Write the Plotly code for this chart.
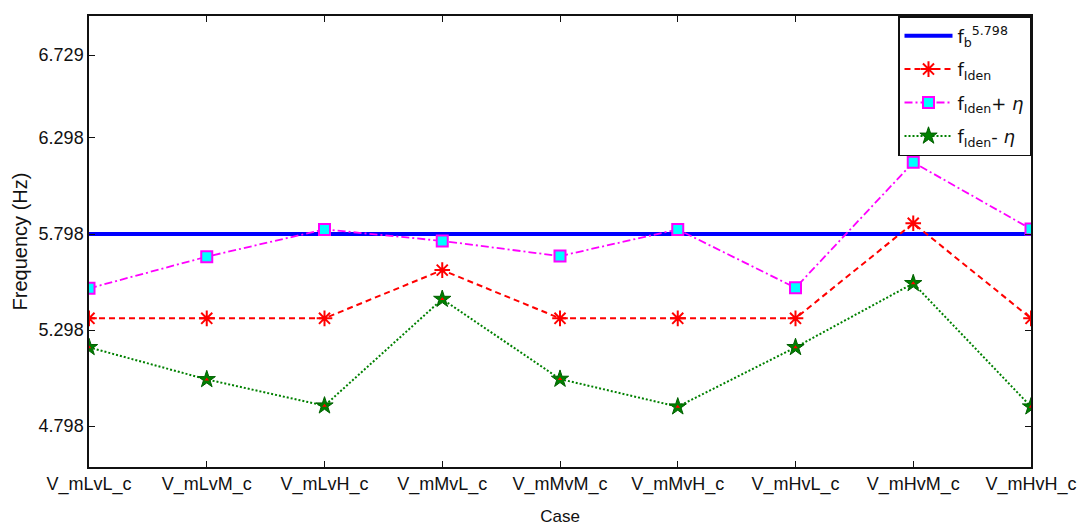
import plotly.graph_objects as go

cases = ["V_mLvL_c", "V_mLvM_c", "V_mLvH_c", "V_mMvL_c", "V_mMvM_c",
         "V_mMvH_c", "V_mHvL_c", "V_mHvM_c", "V_mHvH_c"]
f_b = 5.798
f_iden = [5.359, 5.359, 5.359, 5.610, 5.359, 5.359, 5.359, 5.854, 5.359]
f_plus = [5.515, 5.680, 5.822, 5.762, 5.683, 5.822, 5.518, 6.171, 5.824]
f_minus = [5.208, 5.041, 4.904, 5.459, 5.043, 4.899, 5.208, 5.541, 4.899]
ytick_vals = [4.798, 5.298, 5.798, 6.298, 6.729]
ytick_text = ["4.798", "5.298", "5.798", "6.298", "6.729"]

xi = list(range(len(cases)))
FONT = "Liberation Sans, Arial, sans-serif"

fig = go.Figure()
fig.add_trace(go.Scatter(
    x=[xi[0], xi[-1]], y=[f_b, f_b], mode="lines", legendgroup="a",
    line=dict(color="#0000ff", width=4),
    name="f<sub>b</sub><sup>5.798</sup>"))
fig.add_trace(go.Scatter(
    x=xi, y=f_iden, mode="lines+markers", legendgroup="b",
    line=dict(color="#ff0000", width=2, dash="6px,4px"),
    marker=dict(symbol="asterisk-open", size=13, line=dict(color="#ff0000", width=2)),
    name="f<sub>Iden</sub>"))
fig.add_trace(go.Scatter(
    x=xi, y=f_plus, mode="lines+markers", legendgroup="c",
    line=dict(color="#ff00ff", width=1.8, dash="8px,3px,2px,3px"),
    marker=dict(symbol="square", size=11, color="#00ffff", line=dict(color="#ff00ff", width=2)),
    name="f<sub>Iden</sub>+ <i>η</i>"))
fig.add_trace(go.Scatter(
    x=xi, y=f_minus, mode="lines+markers", legendgroup="d",
    line=dict(color="#008000", width=2, dash="2px,2px"),
    marker=dict(symbol="star", size=13, color="#008000", line=dict(color="#006000", width=1)),
    name="f<sub>Iden</sub>- <i>η</i>"))
fig.add_trace(go.Scatter(
    x=xi, y=f_minus, mode="markers", legendgroup="d",
    marker=dict(symbol="triangle-up", size=4, color="#ff0000"),
    showlegend=False, hoverinfo="skip"))

fig.update_layout(
    width=1078, height=526,
    margin=dict(l=89, r=47, t=16, b=59),
    paper_bgcolor="white", plot_bgcolor="white",
    font=dict(family=FONT, size=18, color="#111111"),
    showlegend=True,
    legend=dict(x=1, y=1, xanchor="right", yanchor="top",
                bgcolor="white", bordercolor="#111111", borderwidth=1.5,
                font=dict(family="DejaVu Sans, sans-serif", size=18, color="#111111"),
                tracegroupgap=7, itemwidth=48),
    xaxis=dict(
        range=[0, len(cases) - 1], tickmode="array", tickvals=xi, ticktext=cases,
        ticks="inside", ticklen=6, tickcolor="#111111", showline=True, automargin=False,
        linecolor="#111111", linewidth=1.5, mirror="ticks", showgrid=False, zeroline=False,
        tickfont=dict(size=18),
        title=dict(text="Case", font=dict(size=17), standoff=18)),
    yaxis=dict(
        range=[4.585, 6.933], tickmode="array", tickvals=ytick_vals, ticktext=ytick_text,
        ticks="inside", ticklen=6, tickcolor="#111111", showline=True, automargin=False,
        linecolor="#111111", linewidth=1.5, mirror="ticks", showgrid=False, zeroline=False,
        tickfont=dict(size=18),
        title=dict(text="Frequency (Hz)", font=dict(size=20), standoff=6)),
)

fig.write_html("out.html", config={"displayModeBar": False},
               post_script="document.body.style.margin='0';document.body.style.padding='0';")
